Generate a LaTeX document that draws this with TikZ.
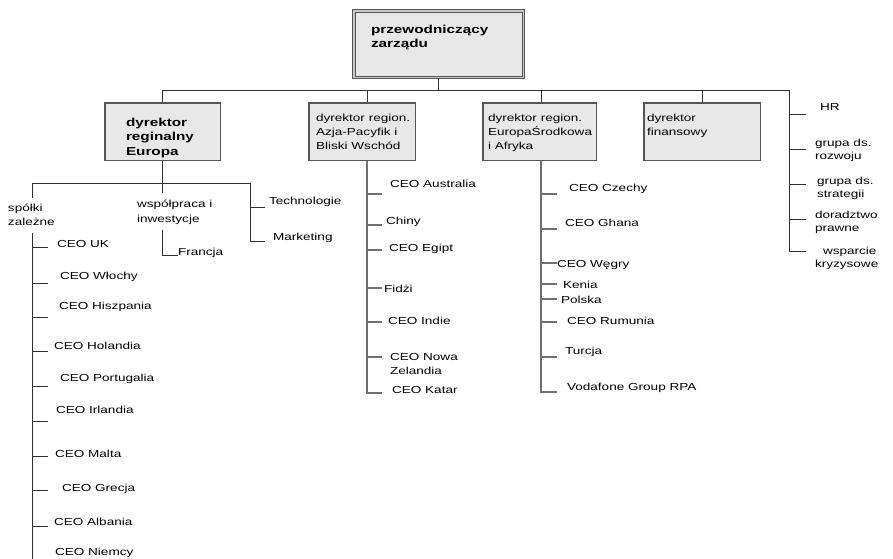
\documentclass[tikz,border=0pt]{standalone}
\usepackage{fontspec}
\setmainfont{Liberation Sans}[FakeStretch=1.33]
\definecolor{boxfill}{HTML}{E8E8E8}
\definecolor{boxline}{HTML}{555555}
\definecolor{linec}{HTML}{303030}
\definecolor{trunkc}{HTML}{707070}
\begin{document}
\begin{tikzpicture}[x=1pt,y=-1pt,
  txt/.style={anchor=north west, inner sep=0pt, outer sep=0pt, align=left, font=\fontsize{10.2}{14}\selectfont},
  btxt/.style={txt, font=\fontsize{11.5}{14.5}\selectfont\bfseries},
  rtxt/.style={txt, font=\fontsize{10.2}{13}\selectfont},
  boxs/.style={draw=boxline, line width=1.5pt, fill=boxfill, inner sep=0pt, minimum height=57.5pt},
  topbox/.style={draw=boxline, line width=1pt, double=black!22, double distance=1.5pt, fill=boxfill, inner sep=0pt},
  conn/.style={draw=linec, line width=1pt},
  trunk/.style={draw=trunkc, line width=1.8pt},
  tick/.style={draw=trunkc, line width=1.3pt}]
\useasboundingbox (0,0) rectangle (893,558);
\fill[white] (0,0) rectangle (893,558);

% boxes
\node[topbox, minimum width=169.5pt, minimum height=66.5pt] (top) at (438.5,44) {};
\node[boxs, minimum width=115.5pt] (eu) at (162.5,131.5) {};
\node[boxs, minimum width=106.5pt] (asia) at (362,131.5) {};
\node[boxs, minimum width=113.5pt] (ce) at (539.5,131.5) {};
\node[boxs, minimum width=116.5pt] (fin) at (702,131.5) {};

% box texts
\node[btxt] (toptxt) at (371,22.85) {\strut przewodniczący\\zarządu};
\node[btxt] (eutxt) at (126,115.85) {\strut dyrektor\\reginalny\\Europa};
\node[txt] (asiatxt) at (316,111.2) {\strut dyrektor region.\\Azja-Pacyfik i\\Bliski Wschód};
\node[txt] (cetxt) at (488,111.2) {\strut dyrektor region.\\EuropaŚrodkowa\\i Afryka};
\node[txt] (fintxt) at (647,111.2) {\strut dyrektor\\finansowy};

% main bus
\coordinate (bL) at (162,90);
\coordinate (bR) at (789,90);
\draw[conn] (bL) -- (bR);
\draw[conn] (top.south) -- (top.south |- bL);
\draw[conn] (eu.north -| bL) -- (bL);
\draw[conn] ([xshift=5pt]asia.north) -- ([xshift=5pt]asia.north |- bL);
\draw[conn] ([xshift=1.5pt]ce.north) -- ([xshift=1.5pt]ce.north |- bL);
\draw[conn] (fin.north) -- (fin.north |- bL);

% right column
\coordinate (rEnd) at (806,251);
\draw[conn] (bR) |- (rEnd);
\foreach \y in {114,149,184,219} \draw[conn] (789,\y) -- (806,\y);
\node[txt] (hr) at (820,100.2) {\strut HR};
\node[rtxt] (rozw) at (815,136.9) {\strut grupa ds.\\rozwoju};
\node[rtxt] (strat) at (817,175.2) {\strut grupa ds.\\strategii};
\node[rtxt] (dor) at (815,209.2) {\strut doradztwo\\prawne};
\node[rtxt] (wsp) at (815,244.9) {\strut\hspace*{8pt}wsparcie\\kryzysowe};

% Europe subtree
\coordinate (eJ) at (162,183);
\coordinate (eBL) at (32,183);
\coordinate (eBR) at (250,183);
\draw[conn] (eu.south -| eJ) -- (eJ);
\draw[conn] (eBL) -- (eBR);
\draw[conn] (eBL) -- (32,198);
\draw[conn] (eJ) -- (162,193);
\node[txt] (spolki) at (8,201.2) {\strut spółki\\zależne};
\node[txt, font=\fontsize{10.2}{15.5}\selectfont] (wspol) at (137,196.15) {\strut współpraca i\\inwestycje};
\node[txt] (francja) at (178,245.2) {\strut Francja};
\draw[conn] (162,230) |- (francja.south west |- 0,255);
\coordinate (tEnd) at (265,241);
\draw[conn] (eBR) |- (tEnd);
\draw[conn] (250,207) -- (265,207);
\node[txt] (tech) at (269,194.2) {\strut Technologie};
\node[txt] (mark) at (273,230.2) {\strut Marketing};

% subsidiaries column
\coordinate (sTop) at (32,233);
\coordinate (sBot) at (32,560);
\draw[conn] (sTop) -- (sBot);
\foreach \y in {247,283.3,317.3,351.7,386.7,421.7,456.7,490.7,526.7} \draw[conn] (32,\y) -- (48,\y);
\node[txt] (uk) at (57,237.2) {\strut CEO UK};
\node[txt] (wlochy) at (60,269.2) {\strut CEO Włochy};
\node[txt] (hisz) at (59,299.2) {\strut CEO Hiszpania};
\node[txt] (hol) at (54,339.2) {\strut CEO Holandia};
\node[txt] (port) at (60,371.2) {\strut CEO Portugalia};
\node[txt] (irl) at (56,403.2) {\strut CEO Irlandia};
\node[txt] (malta) at (55,447.2) {\strut CEO Malta};
\node[txt] (grec) at (62,481.2) {\strut CEO Grecja};
\node[txt] (alb) at (54,515.2) {\strut CEO Albania};
\node[txt, font=\fontsize{10.2}{10.2}\selectfont] (niem) at (55,548.3) {CEO Niemcy};

% Asia subtree
\coordinate (aEnd) at (382,393);
\draw[trunk] ([xshift=5pt]asia.south) |- (aEnd);
\foreach \y in {194,225,250,288,322,357} \draw[tick] (367,\y) -- (382,\y);
\node[txt] (aus) at (390,177.2) {\strut CEO Australia};
\node[txt] (chiny) at (386,214.2) {\strut Chiny};
\node[txt] (egipt) at (389,241.2) {\strut CEO Egipt};
\node[txt] (fidzi) at (384,282.2) {\strut Fidżi};
\node[txt] (indie) at (388,314.2) {\strut CEO Indie};
\node[txt] (nz) at (390,350.2) {\strut CEO Nowa\\Zelandia};
\node[txt] (katar) at (392,383.2) {\strut CEO Katar};

% Central Europe subtree
\coordinate (cEnd) at (557,392);
\draw[trunk] ([xshift=1.5pt]ce.south) |- (cEnd);
\foreach \y in {194,229,263,284,299,322,357} \draw[tick] (541,\y) -- (557,\y);
\node[txt] (cze) at (569,181.2) {\strut CEO Czechy};
\node[txt] (gha) at (565,216.2) {\strut CEO Ghana};
\node[txt] (weg) at (557,257.2) {\strut CEO Węgry};
\node[txt] (ken) at (563,278.2) {\strut Kenia};
\node[txt] (pol) at (561,293.2) {\strut Polska};
\node[txt] (rum) at (567,314.2) {\strut CEO Rumunia};
\node[txt] (tur) at (565,344.2) {\strut Turcja};
\node[txt] (voda) at (567,380.2) {\strut Vodafone Group RPA};
\end{tikzpicture}
\end{document}
